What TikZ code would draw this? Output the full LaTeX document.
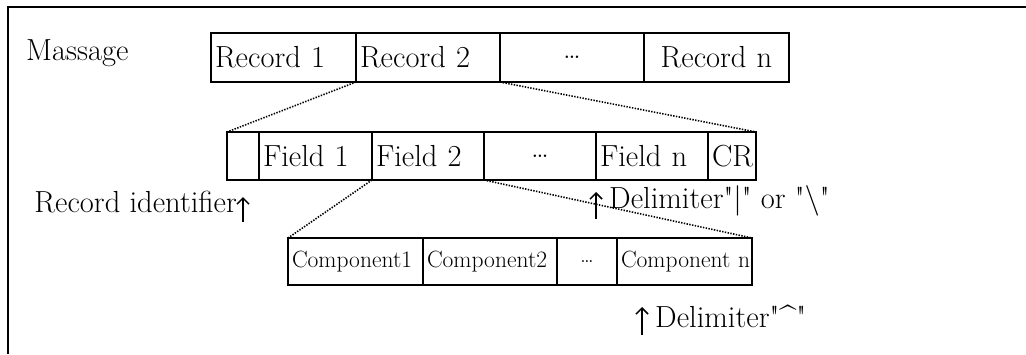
\documentclass[tikz,border=0pt]{standalone}
\usepackage{fontspec}
\newfontfamily\plainquotes{Latin Modern Roman}
\usetikzlibrary{arrows.meta}
\begin{document}
\begin{tikzpicture}[x=1pt,y=-1pt,
  big/.style={font=\fontsize{30.5}{36}\selectfont},
  small/.style={font=\fontsize{23.5}{28}\selectfont},
  cell/.style={draw, line width=1.6pt, anchor=north west, outer sep=0pt, inner xsep=4pt, inner ysep=0pt, align=left},
  ccell/.style={cell, align=center},
  zoomline/.style={line width=1.6pt, dash pattern=on 1.4pt off 1.4pt},
  pointer/.style={line width=1.5pt, -{Straight Barb[length=6pt,width=12pt]}},
  frame/.style={line width=2pt},
  label/.style={big, inner sep=0pt}]
\useasboundingbox (0,0) rectangle (1026,354);
% frame (top and left edges only)
\coordinate (fbl) at (8,354);
\coordinate (ftl) at (8,7);
\coordinate (ftr) at (1026,7);
\draw[frame] (fbl) -- (ftl) -- (ftr);

% message row
\node[label, anchor=base west] (msg) at (26,60) {Massage};
\node[cell,big,text width=137pt,minimum height=49pt] (r1) at (211,33) {Record 1};
\node[cell,big,text width=136pt,minimum height=49pt] (r2) at (356,33) {Record 2};
\node[ccell,big,text width=136pt,minimum height=49pt] (rd) at (500,33) {\dots};
\node[ccell,big,text width=137pt,minimum height=49pt] (rn) at (644,33) {Record n};

% field row
\node[cell,big,text width=24pt,minimum height=48pt] (f0) at (227,132) {};
\node[cell,big,text width=105pt,minimum height=48pt] (f1) at (259,132) {Field 1};
\node[cell,big,text width=104pt,minimum height=48pt] (f2) at (372,132) {Field 2};
\node[ccell,big,text width=104pt,minimum height=48pt] (fd) at (484,132) {\dots};
\node[cell,big,text width=104pt,minimum height=48pt] (fn) at (596,132) {Field n};
\node[cell,big,text width=40pt,minimum height=48pt] (cr) at (708,132) {CR};

% component row
\node[cell,small,text width=127pt,minimum height=47pt] (c1) at (288,238) {\mbox{Component1}};
\node[cell,small,text width=126pt,minimum height=47pt] (c2) at (423,238) {\mbox{Component2}};
\node[ccell,small,text width=52pt,minimum height=47pt] (cd) at (557,238) {\dots};
\node[cell,small,text width=127pt,minimum height=47pt] (cn) at (617,238) {\mbox{Component n}};

% zoom lines
\draw[zoomline] (r2.south west) -- (f0.north west);
\draw[zoomline] (rd.south west) -- (cr.north east);
\draw[zoomline] (f2.south west) -- (c1.north west);
\draw[zoomline] (fd.south west) -- (cn.north east);

% labels and pointers
\node[label, anchor=base east] (rid) at (237,212) {Record identifier};
\coordinate (p1t) at (243,222);
\coordinate (p1h) at (243,197);
\draw[pointer] (p1t) -- (p1h);

\node[label, anchor=base west] (d1) at (609,208) {\plainquotes Delimiter"|" or "\textbackslash"};
\coordinate (p2t) at (596,219);
\coordinate (p2h) at (596,192);
\draw[pointer] (p2t) -- (p2h);

\node[label, anchor=base west] (d2) at (655,327) {\plainquotes Delimiter"\textasciicircum"};
\coordinate (p3t) at (642,335);
\coordinate (p3h) at (642,307);
\draw[pointer] (p3t) -- (p3h);
\end{tikzpicture}
\end{document}
